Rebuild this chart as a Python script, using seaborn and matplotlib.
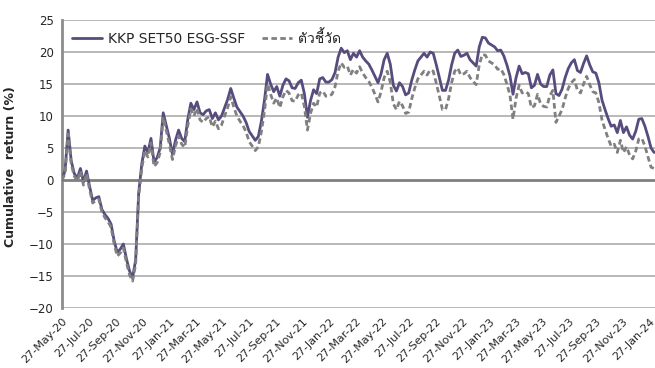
import numpy as np
import pandas as pd
import matplotlib
matplotlib.use("Agg")
import matplotlib.pyplot as plt
import seaborn as sns
from matplotlib import font_manager
from matplotlib.ft2font import FT2Font

# Weekly cumulative returns (%) starting 27-May-2020
fund_name = "KKP SET50 ESG-SSF"
bench_name = "ตัวชี้วัด"
start_date = "2020-05-27"

fund = [
    0, 1.5, 7.8, 3, 1, 0.3, 1.8, -0.3, 1.4, -1,
    -3.2, -2.8, -2.6, -4.6, -5.4, -6, -6.9, -9.5, -11.3, -10.8,
    -10, -12.3, -14.2, -15.3, -12.5, -2, 2.5, 5.3, 4.3, 6.5,
    2.8, 3.5, 5, 10.5, 8.5, 6.5, 4, 6.2, 7.8, 6.5,
    6, 9.5, 12, 11, 12.2, 10.5, 10.2, 10.8, 11, 9.6,
    10.5, 9.4, 10, 11.3, 12.6, 14.3, 12.8, 11.4, 10.7, 10,
    9, 7.6, 6.9, 6.2, 6.8, 9.2, 12.5, 16.5, 15, 13.8,
    14.6, 13.1, 14.8, 15.8, 15.5, 14.4, 14.3, 15.2, 15.6, 13.5,
    9.8, 12.4, 14.1, 13.5, 15.8, 16, 15.3, 15.3, 15.7, 16.8,
    19.2, 20.6, 19.9, 20.2, 18.8, 19.8, 19.2, 20.2, 19.2, 18.6,
    18.1, 17.2, 16.2, 15.2, 16.6, 18.8, 19.8, 18.1, 14.8, 13.9,
    15.2, 14.6, 13.3, 13.6, 15.6, 17.2, 18.6, 19.2, 19.8, 19.2,
    20, 19.8, 18, 16, 14, 14, 15.6, 18, 19.8, 20.3,
    19.3, 19.5, 19.8, 18.8, 18.3, 17.8, 20.8, 22.3, 22.2, 21.4,
    21.1, 20.8, 20.2, 20.3, 19.4, 18, 16.3, 13.4, 16, 17.8,
    16.6, 16.8, 16.6, 14.4, 14.8, 16.5, 15, 14.6, 14.6, 16.4,
    17.2, 13.5, 13.2, 14.2, 16, 17.4, 18.3, 18.8, 17.1, 16.8,
    18.2, 19.4, 18, 16.9, 16.7, 15.2, 12.5, 11, 9.6, 8.4,
    8.6, 7.4, 9.3, 7.4, 8.3, 7, 6.4, 7.6, 9.5, 9.6,
    8.4, 6.8, 5, 4.3,
]

bench = [
    0, 1, 7.2, 2.5, 0.6, -0.2, 1.4, -0.8, 1, -1.5,
    -3.6, -3.2, -3, -5, -5.9, -6.5, -7.4, -10, -11.9, -11.4,
    -10.6, -12.9, -14.8, -15.8, -13.2, -2.6, 1.8, 4.6, 3.6, 5.8,
    2.1, 2.7, 4.3, 9.8, 7.7, 5.6, 3.2, 5.3, 6.9, 5.6,
    5.1, 8.5, 11.1, 10, 11.2, 9.4, 9, 9.6, 9.9, 8.3,
    9.2, 8, 8.6, 10, 11.3, 13, 11.4, 10, 9.2, 8.5,
    7.5, 6, 5.3, 4.6, 5.2, 7.6, 10.8, 15, 13.4, 12,
    12.8, 11.3, 13, 14, 13.6, 12.4, 12.3, 13.3, 13.6, 11.5,
    7.8, 10.4, 12, 11.4, 13.6, 13.9, 13.1, 13.1, 13.4, 14.6,
    17, 18.3, 17.6, 17.8, 16.4, 17.3, 16.7, 17.7, 16.7, 16,
    15.4, 14.5, 13.4, 12.2, 13.8, 16, 17, 15.3, 11.9, 11,
    12.3, 11.6, 10.4, 10.6, 12.7, 14.4, 15.8, 16.4, 17, 16.4,
    17.2, 17, 15.1, 13.1, 11, 11, 12.7, 15.2, 17, 17.5,
    16.4, 16.6, 17, 16, 15.4, 14.9, 18, 19.6, 19.5, 18.6,
    18.3, 18, 17.3, 17.4, 16.5, 15, 13.3, 9.5, 12.8, 14.8,
    13.6, 13.8, 13.5, 11.3, 11.6, 13.4, 11.9, 11.5, 11.4, 13.2,
    14, 9, 10, 11, 12.8, 14.3, 15.2, 15.7, 14, 13.6,
    15, 16.2, 14.9, 13.8, 13.6, 12.1, 9.4, 7.9, 6.5, 5.3,
    5.6, 4.3, 6.2, 4.3, 5.2, 3.9, 3.3, 4.5, 6.4, 6.5,
    5.3, 3.6, 2, 1.8,
]

y_ticks = [-20, -15, -10, -5, 0, 5, 10, 15, 20, 25]
y_label = "Cumulative  return (%)"


def thai_capable_family():
    """Return the name of an installed font that can draw Thai script."""
    for entry in font_manager.fontManager.ttflist:
        try:
            cmap = FT2Font(entry.fname).get_charmap()
        except Exception:
            continue
        if all(ord(c) in cmap for c in bench_name):
            return entry.name
    return None


sns.set_style("white")
thai_family = thai_capable_family()
families = ["DejaVu Sans"] + ([thai_family] if thai_family else [])
plt.rcParams["font.family"] = families

dates = pd.date_range(start_date, periods=len(fund), freq="7D")
df = pd.DataFrame({
    "date": np.concatenate([dates, dates]),
    "value": fund + bench,
    "series": [fund_name] * len(fund) + [bench_name] * len(bench),
})

fig = plt.figure(figsize=(6.55, 3.68), dpi=100)
ax = fig.add_axes([62 / 655, 60 / 368, 593 / 655, 288 / 368])

purple = "#574C7D"
grey = "#808080"

sns.lineplot(data=df[df["series"] == fund_name], x="date", y="value",
             color=purple, linewidth=2.0, ax=ax, label=fund_name, zorder=3)
sns.lineplot(data=df[df["series"] == bench_name], x="date", y="value",
             color=grey, linewidth=2.0, ax=ax, label=bench_name, zorder=4)
ax.lines[1].set_dashes([2.0, 1.2])

# horizontal gridlines, darker line at zero
for v in y_ticks:
    if v == 0:
        ax.axhline(v, color="#7F7F7F", linewidth=2.0, zorder=2)
    else:
        ax.axhline(v, color="#B3B3B3", linewidth=1.3, zorder=1)

ax.set_ylim(-20, 25)
ax.set_yticks(y_ticks)
ax.set_xlim(pd.Timestamp(start_date), pd.Timestamp("2024-02-09"))

xt = pd.date_range(start_date, "2024-01-27", freq=pd.DateOffset(months=2))
ax.set_xticks(xt)
ax.set_xticklabels([d.strftime("%d-%b-%y") for d in xt], rotation=45,
                   ha="right", rotation_mode="anchor", fontsize=8)
ax.tick_params(axis="x", length=0, pad=6)
ax.tick_params(axis="y", length=0, pad=6, labelsize=8.5)

for s in ["top", "right", "bottom"]:
    ax.spines[s].set_visible(False)
ax.spines["left"].set_color("#8C8C8C")
ax.spines["left"].set_linewidth(2.0)

ax.set_xlabel("")
ax.set_ylabel(y_label, fontsize=9, fontweight="bold")
ax.yaxis.set_label_coords(-0.076, 0.49)

leg = ax.legend(loc="upper left", bbox_to_anchor=(0.0, 1.0), ncol=2,
                frameon=False, fontsize=10, handlelength=2.2,
                handletextpad=0.4, columnspacing=1.2, borderaxespad=0.3)
leg.get_lines()[1].set_dashes([2.0, 1.2])

fig.savefig("out.png", dpi=100)
